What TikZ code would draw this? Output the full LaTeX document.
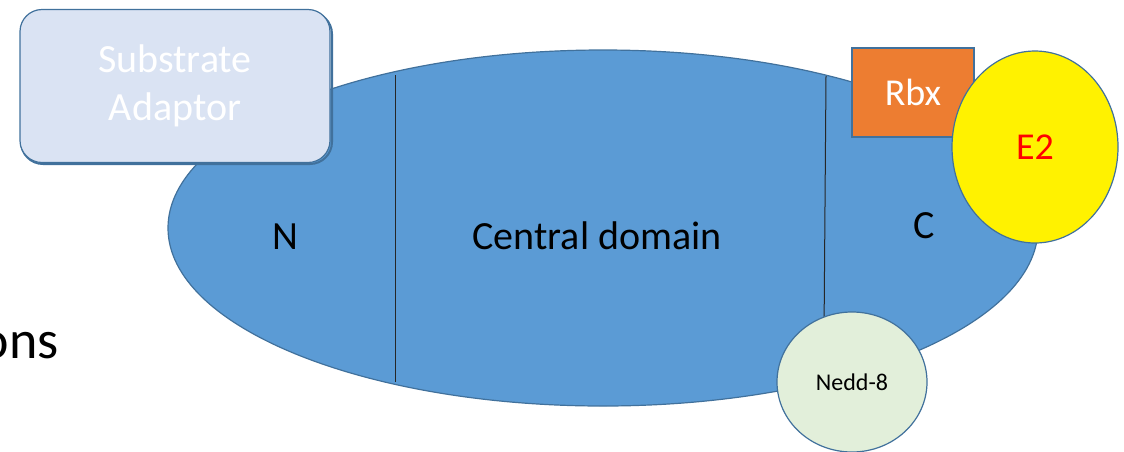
\documentclass[tikz,border=0pt]{standalone}
\usepackage{fontspec}
\setmainfont{Carlito}
\usetikzlibrary{shapes.geometric}
\definecolor{domainblue}{HTML}{5B9BD5}
\definecolor{edgeblue}{HTML}{41719C}
\definecolor{adaptorfill}{HTML}{DAE3F3}
\definecolor{rbxorange}{HTML}{ED7D31}
\definecolor{neddgreen}{HTML}{E2EFDA}
\begin{document}
\begin{tikzpicture}[x=1pt,y=-1pt,
  part/.style={draw=edgeblue, line width=1.2pt},
  divider/.style={draw=black!85, line width=1pt},
  lbl/.style={font=\fontsize{40}{48}\selectfont, text=black}]
\useasboundingbox (0,0) rectangle (1124,451);

% left-over title text
\node[anchor=base east, inner sep=0, font=\fontsize{54}{60}\selectfont] (title) at (59,358) {ons};

% cullin body
\node[part, ellipse, fill=domainblue, minimum width=870pt, minimum height=356pt, inner sep=0] (cul) at (603,228) {};

% domain boundaries
\coordinate (d1t) at (395,75);
\coordinate (d1b) at (395,382);
\coordinate (d2t) at (826,76);
\coordinate (d2b) at (824,335);
\draw[divider] (d1t) -- (d1b);
\draw[divider] (d2t) -- (d2b);

\node[lbl] (nterm) at (285,237) {N};
\node[lbl] (central) at (597,236) {Central domain};
\node[lbl] (cterm) at (924,226) {C};

% substrate adaptor
\draw[edgeblue, line width=2pt, rounded corners=22pt] (21,12) rectangle (332,164);
\node[part, fill=adaptorfill, rounded corners=22pt, minimum width=310pt, minimum height=153pt, inner sep=0,
  align=center, text=white, font=\fontsize{40}{48}\selectfont] (adaptor) at (175,86) {Substrate\\Adaptor};

% RING box protein
\node[part, fill=rbxorange, minimum width=122pt, minimum height=89pt, inner sep=0,
  text=white, font=\fontsize{38}{44}\selectfont] (rbx) at (913,92.5) {Rbx};

% E2 enzyme
\node[part, ellipse, fill=yellow, minimum width=166pt, minimum height=192pt, inner sep=0,
  text=red, font=\fontsize{38}{44}\selectfont] (e2) at (1035,147) {E2};

% Nedd-8
\node[part, ellipse, fill=neddgreen, minimum width=150pt, minimum height=140pt, inner sep=0,
  text=black, font=\fontsize{24}{28}\selectfont] (nedd) at (852,382) {Nedd-8};
\end{tikzpicture}
\end{document}
